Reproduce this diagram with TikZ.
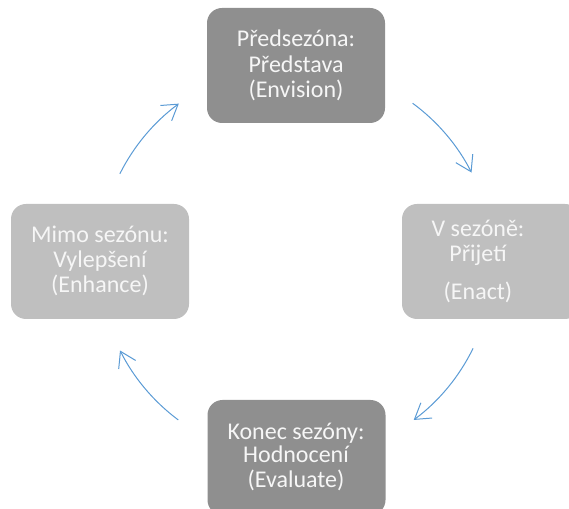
\documentclass[tikz,border=0pt]{standalone}
\usepackage{fontspec}
\setmainfont{Carlito}
\usetikzlibrary{arrows.meta}
\definecolor{darkbox}{RGB}{143,143,143}
\definecolor{lightbox}{RGB}{191,191,191}
\definecolor{txt}{RGB}{246,246,246}
\definecolor{arrowblue}{RGB}{91,155,213}
\begin{document}
\begin{tikzpicture}[x=1pt,y=1pt,
  box/.style={rounded corners=15pt, minimum width=178pt, minimum height=115pt, inner sep=0pt, draw=none},
  lbl/.style={anchor=base, text=txt, font=\fontsize{24}{25}\selectfont, inner sep=0pt},
  cyc/.style={draw=arrowblue, line width=1pt, -{Straight Barb[length=15pt,width=19pt]}}]
\useasboundingbox (0,0) rectangle (569,508);
\clip (0,0) rectangle (569,508);
% boxes
\node[box, fill=darkbox]  (top)    at (296,442.5) {};
\node[box, fill=lightbox] (right)  at (491,246.5) {};
\node[box, fill=lightbox] (left)   at (100,246.5) {};
\node[box, fill=darkbox]  (bottom) at (296.5,50.5) {};
% labels
\node[lbl] (t1) at (296,461) {Předsezóna:};
\node[lbl] (t2) at (296,435) {Představa};
\node[lbl] (t3) at (296,410) {(Envision)};
\node[lbl] (r1) at (478,271) {V sezóně:};
\node[lbl] (r2) at (478,246) {Přijetí};
\node[lbl] (r3) at (478,208) {(Enact)};
\node[lbl] (l1) at (100,265) {Mimo sezónu:};
\node[lbl] (l2) at (100,240) {Vylepšení};
\node[lbl] (l3) at (100,215) {(Enhance)};
\node[lbl] (b1) at (296,69) {Konec sezóny:};
\node[lbl] (b2) at (296,46) {Hodnocení};
\node[lbl] (b3) at (296,21) {(Evaluate)};
% cycle arrows
\coordinate (C) at (296,246);
\path (C) ++(153.4:197) coordinate (s1);
\path (C) ++(53.7:197) coordinate (s2);
\path (C) ++(-26:197) coordinate (s3);
\path (C) ++(-126.7:197) coordinate (s4);
\draw[cyc] (s1) arc[start angle=153.4, end angle=126.5, radius=197];
\draw[cyc] (s2) arc[start angle=53.7, end angle=27, radius=197];
\draw[cyc] (s3) arc[start angle=-26, end angle=-53.3, radius=197];
\draw[cyc] (s4) arc[start angle=-126.7, end angle=-153.3, radius=197];
\end{tikzpicture}
\end{document}
